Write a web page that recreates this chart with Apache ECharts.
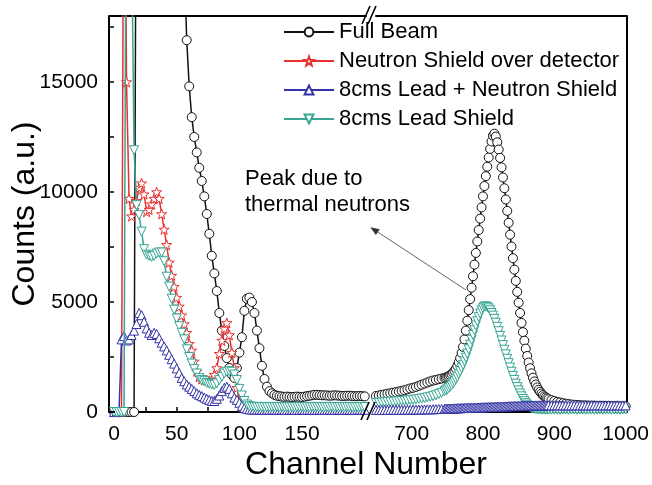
<!DOCTYPE html>
<html>
<head>
<meta charset="utf-8">
<script src="https://cdn.jsdelivr.net/npm/echarts@6.0.0/dist/echarts.min.js"></script>
<style>
  html, body { margin: 0; padding: 0; background: #ffffff; }
  #chart { width: 652px; height: 485px; }
</style>
</head>
<body>
<div id="chart"></div>
<script>
// Gamma/neutron spectra, broken channel axis (0-200 | 650-1000)

// ---- left segment: channels 0..200 ----
const leftChannels = [
  0, 2, 4, 6, 8, 10, 12, 14, 16, 18,
  20, 22, 24, 26, 28, 30, 32, 34, 36, 38,
  40, 42, 44, 46, 48, 50, 52, 54, 56, 58,
  60, 62, 64, 66, 68, 70, 72, 74, 76, 78,
  80, 82, 84, 86, 88, 90, 92, 94, 96, 98,
  100, 102, 104, 106, 108, 110, 112, 114, 116, 118,
  120, 122, 124, 126, 128, 130, 132, 134, 136, 138,
  140, 142, 144, 146, 148, 150, 152, 154, 156, 158,
  160, 162, 164, 166, 168, 170, 172, 174, 176, 178,
  180, 182, 184, 186, 188, 190, 192, 194, 196, 198,
  200
];

const fullBeamLeft = [
  0, 0, 0, 0, 0, 0, 0, 0, 0, 30000,
  30000, 30000, 30000, 30000, 30000, 30000, 30000, 30000, 30000, 30000,
  30000, 30000, 30000, 30000, 30000, 30000, 30000, 30000, 20500, 16900,
  14800, 13400, 12500, 11800, 11100, 10500, 9800, 9000, 8100, 7100,
  6300, 5500, 4500, 3700, 3000, 2450, 2000, 1700, 1550, 2000,
  2700, 3400, 4600, 5150, 5200, 5000, 4500, 3700, 2900, 2100,
  1500, 1150, 950, 850, 780, 740, 720, 700, 690, 700,
  690, 680, 690, 700, 690, 680, 700, 720, 740, 760,
  780, 780, 770, 760, 760, 750, 740, 750, 760, 750,
  740, 730, 730, 740, 740, 730, 720, 720, 730, 720,
  710
];

// neutron shield curve ends at channel 104
const neutronShieldLeft = [
  0, 0, 0, 0, 30000, 15000, 9700, 8900, 9200, 9600,
  10200, 10400, 9900, 9100, 9200, 9450, 9700, 10000, 9700, 9000,
  8300, 7600, 6800, 6200, 5700, 5200, 4800, 4400, 4000, 3600,
  3100, 2800, 2300, 1850, 1600, 1500, 1450, 1450, 1420, 1450,
  1700, 2000, 2650, 3250, 3800, 4050, 3500, 2700, 2000, 1100,
  500, 250, 180
];

const leadNeutronLeft = [
  0, 0, 0, 3300, 3450, 3250, 3300, 3500, 3700, 4000,
  4500, 4400, 4100, 3800, 3600, 3500, 3600, 3550, 3350, 3150,
  2980, 2800, 2600, 2400, 2200, 1980, 1780, 1550, 1400, 1250,
  1150, 1050, 950, 850, 780, 720, 660, 600, 550, 500,
  500, 600, 750, 950, 1100, 1150, 1050, 850, 650, 550,
  420, 280, 180, 140, 120, 110, 110, 100, 110, 100,
  100, 110, 100, 100, 110, 100, 100, 110, 100, 100,
  100, 110, 100, 100, 100, 110, 100, 100, 110, 100,
  100, 100, 110, 100, 100, 100, 110, 100, 100, 100,
  110, 100, 100, 100, 110, 100, 100, 100, 110, 100,
  100
];

const leadShieldLeft = [
  0, 0, 0, 0, 0, 30000, 30000, 22000, 11900, 9400,
  8950, 8200, 7400, 7150, 7100, 7050, 7100, 7200, 7250, 7250,
  6850, 6150, 5700, 5150, 4650, 4250, 3900, 3600, 3300, 2850,
  2500, 2200, 1950, 1750, 1550, 1450, 1400, 1320, 1280, 1250,
  1230, 1300, 1450, 1600, 1750, 1830, 1850, 1830, 1700, 1450,
  1050, 750, 500, 340, 260, 240, 230, 220, 230, 220,
  230, 220, 230, 230, 220, 230, 220, 230, 230, 220,
  230, 220, 230, 220, 230, 230, 220, 230, 220, 230,
  220, 230, 230, 220, 230, 220, 230, 230, 220, 230,
  220, 230, 220, 230, 230, 220, 230, 220, 230, 230,
  220
];

// ---- right segment: channels 650..1000 ----
const rightChannels = [
  650, 654, 658, 662, 666, 670, 674, 678, 682,
  686, 690, 694, 698, 702, 706, 710, 714, 718, 722,
  726, 730, 734, 738, 742, 746, 748, 750, 752, 754,
  756, 758, 760, 762, 764, 766, 768, 770, 772, 774,
  776, 778, 780, 782, 784, 786, 788, 790, 792, 794,
  796, 798, 800, 802, 804, 806, 808, 810, 812, 814,
  816, 818, 820, 822, 824, 826, 828, 830, 832, 834,
  836, 838, 840, 842, 844, 846, 848, 850, 852, 854,
  856, 858, 860, 862, 864, 866, 868, 870, 872, 874,
  876, 878, 880, 882, 884, 886, 888, 890, 892, 896,
  900, 904, 908, 912, 916, 920, 924, 928, 932, 936,
  940, 944, 948, 952, 956, 960, 964, 968, 972, 976,
  980, 984, 988, 992, 996, 1000
];

const fullBeamRight = [
  730, 750, 780, 800, 830, 850, 880, 900, 930,
  960, 990, 1030, 1070, 1100, 1140, 1190, 1240, 1290, 1340,
  1390, 1430, 1460, 1490, 1520, 1550, 1570, 1600, 1630, 1670,
  1720, 1790, 1870, 1970, 2100, 2260, 2450, 2680, 2960, 3300,
  3700, 4150, 4630, 5130, 5650, 6170, 6700, 7230, 7750, 8270,
  8790, 9300, 9800, 10270, 10720, 11150, 11570, 11960, 12300, 12560,
  12650, 12520, 12260, 11930, 11550, 11120, 10660, 10170, 9660, 9140,
  8600, 8060, 7520, 6990, 6470, 5960, 5460, 4970, 4500, 4050,
  3630, 3240, 2880, 2550, 2250, 1990, 1760, 1560, 1390, 1250,
  1120, 1010, 920, 840, 770, 710, 660, 620, 580, 540,
  500, 460, 430, 400, 380, 360, 340, 330, 320, 310,
  300, 300, 290, 290, 290, 280, 280, 280, 280, 270,
  270, 270, 270, 260, 260, 260
];

const leadNeutronRight = [
  90, 90, 95, 95, 95, 100, 100, 100, 100,
  100, 105, 105, 105, 110, 110, 110, 115, 115, 120,
  120, 125, 130, 135, 140, 145, 150, 150, 155, 155,
  160, 160, 165, 165, 170, 170, 175, 175, 180, 180,
  185, 185, 190, 190, 195, 195, 200, 200, 205, 205,
  210, 210, 215, 215, 220, 220, 225, 225, 230, 230,
  235, 235, 240, 240, 245, 245, 250, 250, 255, 255,
  260, 260, 265, 265, 270, 270, 275, 275, 280, 280,
  280, 285, 285, 290, 290, 290, 295, 295, 295, 300,
  300, 300, 305, 300, 300, 305, 300, 300, 305, 300,
  300, 305, 300, 300, 305, 300, 300, 305, 300, 300,
  305, 300, 300, 305, 300, 300, 305, 300, 300, 305,
  300, 300, 305, 300, 300, 300
];

const leadShieldRight = [
  410, 420, 430, 440, 450, 460, 470, 480, 490,
  500, 510, 520, 540, 550, 570, 590, 610, 630, 660,
  690, 720, 760, 810, 870, 940, 980, 1030, 1090, 1150,
  1220, 1300, 1390, 1490, 1600, 1720, 1850, 1990, 2140, 2300,
  2470, 2650, 2850, 3060, 3280, 3500, 3720, 3930, 4130, 4320,
  4480, 4620, 4720, 4790, 4800, 4770, 4710, 4620, 4500, 4380,
  4230, 4060, 3870, 3670, 3460, 3250, 3040, 2830, 2620, 2420,
  2220, 2020, 1830, 1640, 1460, 1290, 1130, 980, 840, 710,
  590, 490, 400, 330, 270, 225, 190, 170, 150, 140,
  130, 130, 120, 120, 120, 120, 110, 110, 110, 110,
  110, 110, 100, 110, 110, 100, 110, 110, 100, 110,
  110, 100, 110, 110, 100, 110, 110, 100, 110, 110,
  100, 110, 110, 100, 110, 110
];

// ---- axis labels ----
const yLabels = [0, 5000, 10000, 15000];
const leftLabels = [0, 50, 100, 150];
const rightLabels = [700, 800, 900, 1000];

const seriesNames = ['Full Beam', 'Neutron Shield over detector', '8cms Lead + Neutron Shield', '8cms Lead Shield'];
const seriesColors = ['#111111', '#ea2f2f', '#3434a6', '#36a593'];

const FONT = 'Liberation Sans';
const STAR = 'path://M0,-10L2.35,-3.24L9.51,-3.09L3.8,1.24L5.88,8.09L0,4L-5.88,8.09L-3.8,1.24L-9.51,-3.09L-2.35,-3.24Z';
const symbols = ['circle', STAR, 'triangle', 'triangle'];
const rotations = [0, 0, 0, 180];
const sizes = [9, 10, 9, 9];

function pairs(xs, ys) {
  return ys.map((y, i) => [xs[i], y]);
}

function makeSeries(k, axis, xs, ys, z) {
  return {
    type: 'line',
    name: seriesNames[k],
    xAxisIndex: axis,
    yAxisIndex: axis,
    data: pairs(xs, ys),
    symbol: symbols[k],
    symbolSize: sizes[k],
    symbolRotate: rotations[k],
    showAllSymbol: true,
    clip: true,
    lineStyle: { color: seriesColors[k], width: 1.5 },
    itemStyle: { color: '#ffffff', borderColor: seriesColors[k], borderWidth: 1 },
    emphasis: { disabled: true },
    z: z
  };
}

const onlyValues = list => v => (list.indexOf(v) >= 0 ? String(v) : '');
const frameLine = { show: true, onZero: false, lineStyle: { color: '#000', width: 2 } };
const tickStyle = { color: '#000', width: 1.5 };
const labelStyle = { color: '#000', fontFamily: FONT, fontSize: 21 };
const hiddenAxisParts = { axisTick: { show: false }, axisLabel: { show: false }, splitLine: { show: false } };

const GRID_TOP = 16, GRID_H = 396;

const option = {
  animation: false,
  backgroundColor: '#ffffff',
  grid: [
    { left: 114, top: GRID_TOP, width: 252, height: GRID_H },
    { left: 376, top: GRID_TOP, width: 251, height: GRID_H }
  ],
  xAxis: [
    {
      type: 'value', gridIndex: 0, min: 0, max: 201, interval: 25,
      axisLine: frameLine,
      axisTick: { show: true, inside: true, length: 5, lineStyle: tickStyle },
      axisLabel: Object.assign({ margin: 12, formatter: onlyValues(leftLabels) }, labelStyle),
      splitLine: { show: false }
    },
    {
      type: 'value', gridIndex: 1, min: 650, max: 1001, interval: 50,
      axisLine: frameLine,
      axisTick: { show: true, inside: true, length: 5, lineStyle: tickStyle },
      axisLabel: Object.assign({ margin: 12, formatter: onlyValues(rightLabels) }, labelStyle),
      splitLine: { show: false }
    },
    Object.assign({ type: 'value', gridIndex: 0, position: 'top', min: 0, max: 201, axisLine: frameLine }, hiddenAxisParts),
    Object.assign({ type: 'value', gridIndex: 1, position: 'top', min: 650, max: 1001, axisLine: frameLine }, hiddenAxisParts)
  ],
  yAxis: [
    {
      type: 'value', gridIndex: 0, min: 0, max: 18000, interval: 2500, offset: 5,
      axisLine: frameLine,
      axisTick: { show: true, inside: true, length: 5, lineStyle: tickStyle },
      axisLabel: Object.assign({ margin: 11, formatter: onlyValues(yLabels) }, labelStyle),
      splitLine: { show: false }
    },
    Object.assign({ type: 'value', gridIndex: 1, position: 'right', min: 0, max: 18000, axisLine: frameLine }, hiddenAxisParts)
  ],
  legend: {
    data: seriesNames,
    orient: 'vertical',
    left: 283,
    top: 21,
    padding: 0,
    itemWidth: 50,
    itemHeight: 11,
    itemGap: 7,
    selectedMode: false,
    textStyle: { color: '#000', fontFamily: FONT, fontSize: 22 }
  },
  series: [
    makeSeries(0, 0, leftChannels, fullBeamLeft, 2),
    makeSeries(1, 0, leftChannels, neutronShieldLeft, 3),
    makeSeries(2, 0, leftChannels, leadNeutronLeft, 4),
    makeSeries(3, 0, leftChannels, leadShieldLeft, 5),
    makeSeries(0, 1, rightChannels, fullBeamRight, 2),
    makeSeries(3, 1, rightChannels, leadShieldRight, 4),
    makeSeries(2, 1, rightChannels, leadNeutronRight, 5)
  ]
};

const chart = echarts.init(document.getElementById('chart'), null, { renderer: 'canvas', width: 652, height: 485 });
chart.setOption(option);

// annotation arrow: tail near the thermal-neutron peak, head pointing at the note
const arrowTail = chart.convertToPixel({ xAxisIndex: 1, yAxisIndex: 1 }, [776, 5550]);
const arrowHead = chart.convertToPixel({ xAxisIndex: 1, yAxisIndex: 1 }, [642, 8400]);
const dx = arrowHead[0] - arrowTail[0], dy = arrowHead[1] - arrowTail[1];
const len = Math.sqrt(dx * dx + dy * dy);
const ux = dx / len, uy = dy / len;
const headLen = 9, headHalf = 3.5;
const baseX = arrowHead[0] - ux * headLen, baseY = arrowHead[1] - uy * headLen;

// frame corners between the offset y axis and the plot area
const yAxisX = 109, plotLeft = 114;
const frameBits = [GRID_TOP, GRID_TOP + GRID_H].map(y => ({
  type: 'line', shape: { x1: yAxisX, y1: y, x2: plotLeft + 1, y2: y },
  style: { stroke: '#000', lineWidth: 2 }, z: 20
}));

// broken-axis marks on top and bottom frame lines
function breakMark(x, y) {
  return [
    { type: 'line', shape: { x1: x - 4, y1: y + 9, x2: x + 4, y2: y - 9 }, style: { stroke: '#000', lineWidth: 1.6 }, z: 20 },
    { type: 'line', shape: { x1: x + 2, y1: y + 9, x2: x + 10, y2: y - 9 }, style: { stroke: '#000', lineWidth: 1.6 }, z: 20 }
  ];
}

chart.setOption({
  graphic: [
    ...frameBits,
    ...breakMark(366, 15),
    ...breakMark(365, 411),
    {
      type: 'line',
      shape: { x1: arrowTail[0], y1: arrowTail[1], x2: baseX, y2: baseY },
      style: { stroke: '#666', lineWidth: 1 }, z: 20
    },
    {
      type: 'polygon',
      shape: { points: [
        [arrowHead[0], arrowHead[1]],
        [baseX - uy * headHalf, baseY + ux * headHalf],
        [baseX + uy * headHalf, baseY - ux * headHalf]
      ] },
      style: { fill: '#333' }, z: 20
    },
    {
      type: 'text', left: 245, top: 168,
      style: { text: 'Peak due to', fill: '#000', font: '22px "Liberation Sans"' }, z: 20
    },
    {
      type: 'text', left: 245, top: 194,
      style: { text: 'thermal neutrons', fill: '#000', font: '22px "Liberation Sans"' }, z: 20
    },
    {
      type: 'text', x: 366, y: 449,
      style: { text: 'Channel Number', fill: '#000', font: '32px "Liberation Sans"', align: 'center', verticalAlign: 'top' }, z: 20
    },
    {
      type: 'text', x: 25, y: 214, rotation: Math.PI / 2,
      style: { text: 'Counts (a.u.)', fill: '#000', font: '32px "Liberation Sans"', align: 'center', verticalAlign: 'middle' }, z: 20
    }
  ]
});
</script>
</body>
</html>
